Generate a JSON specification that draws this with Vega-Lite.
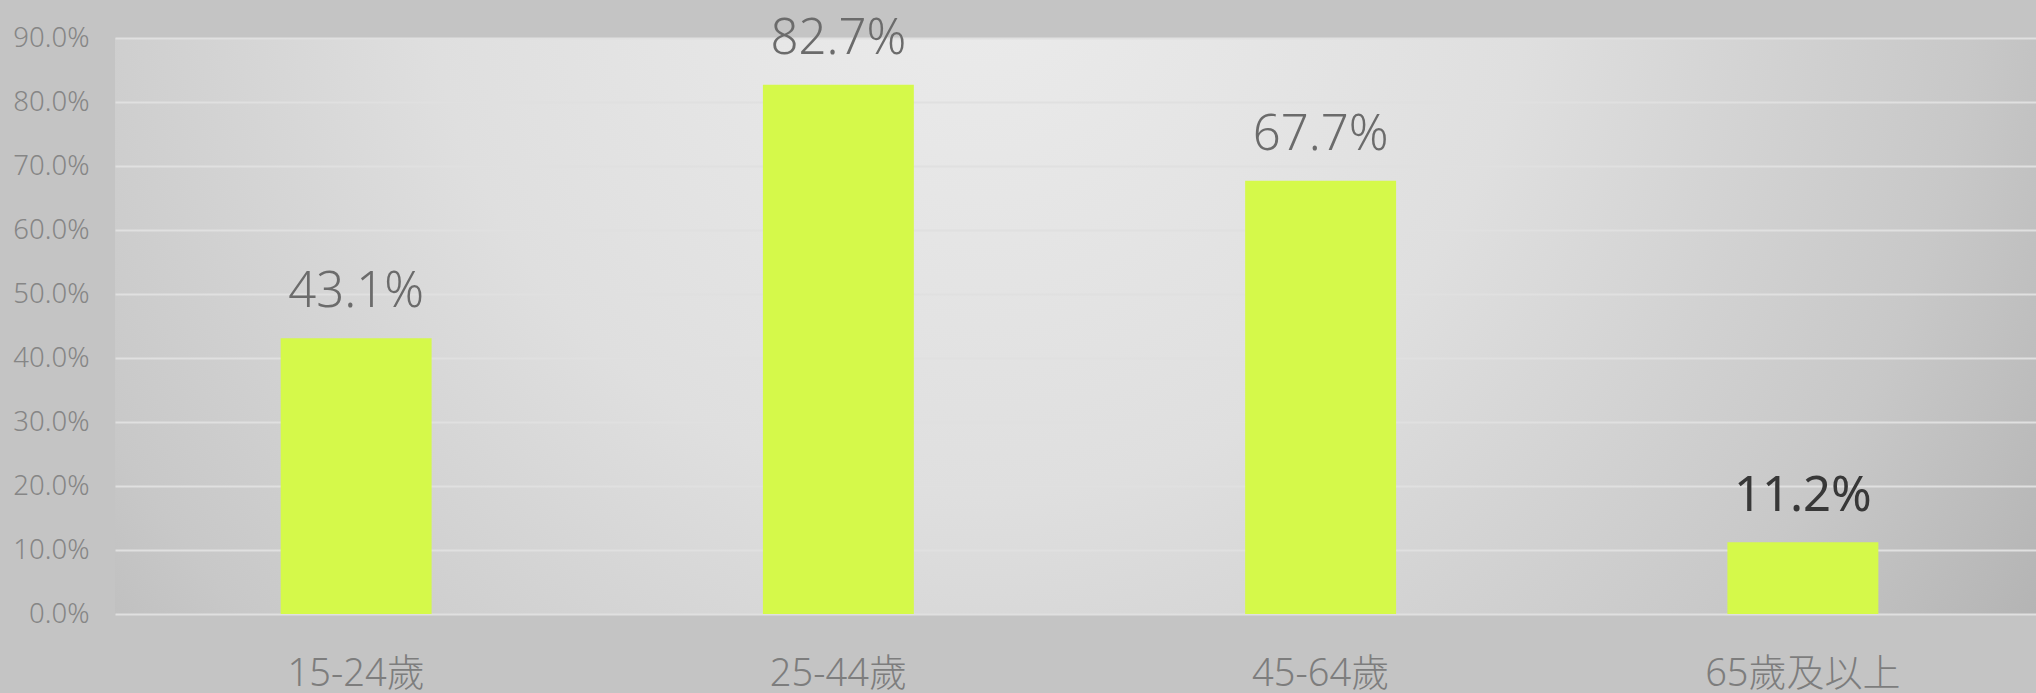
{
  "$schema": "https://vega.github.io/schema/vega-lite/v6.json",
  "width": 1921,
  "height": 576,
  "autosize": "none",
  "padding": {"left": 115, "top": 38, "right": 0, "bottom": 79},
  "background": "#c4c4c4",
  "config": {
    "view": {
      "stroke": null,
      "fill": {
        "gradient": "radial",
        "x1": 0.45, "y1": 0.3, "r1": 0,
        "x2": 0.45, "y2": 0.3, "r2": 0.72,
        "stops": [
          {"offset": 0, "color": "#ececec"},
          {"offset": 0.4, "color": "#dfdfdf"},
          {"offset": 0.72, "color": "#c8c8c8"},
          {"offset": 1, "color": "#aaaaaa"}
        ]
      }
    }
  },
  "data": {
    "values": [
      {"group": "15-24歲", "rate": 0.431},
      {"group": "25-44歲", "rate": 0.827},
      {"group": "45-64歲", "rate": 0.677},
      {"group": "65歲及以上", "rate": 0.112}
    ]
  },
  "encoding": {
    "x": {
      "field": "group",
      "type": "nominal",
      "sort": null,
      "scale": {"range": [0, 1929], "paddingInner": 0.687, "paddingOuter": 0.3435},
      "axis": {
        "title": null,
        "labelAngle": 0,
        "domain": false,
        "ticks": false,
        "tickSize": 0,
        "labelPadding": 71,
        "labelBaseline": "alphabetic",
        "labelLimit": 0,
        "labelFontSize": 38,
        "labelColor": "#7d7d7d",
        "labelFont": "'Noto Sans', 'Noto Sans CJK TC', sans-serif",
        "labelFontWeight": 300
      }
    },
    "y": {
      "field": "rate",
      "type": "quantitative",
      "scale": {"domain": [0, 0.9], "nice": false},
      "axis": {
        "title": null,
        "values": [0, 0.1, 0.2, 0.3, 0.4, 0.5, 0.6, 0.7, 0.8, 0.9],
        "format": ".1%",
        "domain": false,
        "ticks": false,
        "tickSize": 0,
        "labelPadding": 26,
        "labelFontSize": 27.5,
        "labelColor": "#868686",
        "labelFont": "'Noto Sans', sans-serif",
        "labelFontWeight": 300,
        "gridColor": "#e0e0e0",
        "gridWidth": 2
      }
    }
  },
  "layer": [
    {"mark": {"type": "bar", "color": "#d5f94a"}},
    {
      "transform": [{"filter": "datum.group !== '65歲及以上'"}],
      "mark": {"type": "text", "baseline": "alphabetic", "dy": -31, "fontSize": 49, "font": "'Noto Sans', sans-serif", "fontWeight": 300, "color": "#6b6b6b"},
      "encoding": {"text": {"field": "rate", "format": ".1%"}}
    },
    {
      "transform": [{"filter": "datum.group === '65歲及以上'"}],
      "mark": {"type": "text", "baseline": "alphabetic", "dy": -31, "fontSize": 49, "font": "'Noto Sans', sans-serif", "fontWeight": 400, "color": "#383838"},
      "encoding": {"text": {"field": "rate", "format": ".1%"}}
    }
  ]
}
